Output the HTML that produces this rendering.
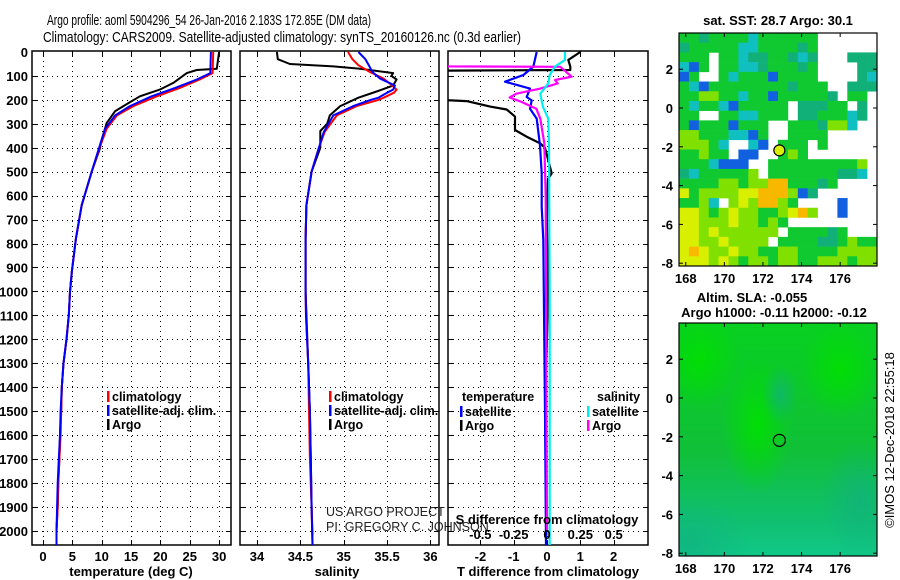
<!DOCTYPE html>
<html><head><meta charset="utf-8">
<style>
html,body{margin:0;padding:0;background:#fff;}
svg{display:block;font-family:"Liberation Sans",Arial,sans-serif;}
.tk{font-size:13px;font-weight:bold;fill:#000;}
.ttl{font-size:15px;fill:#000;}
.lg{font-size:12.5px;font-weight:bold;fill:#000;}
</style></head>
<body>
<svg id="fig" width="900" height="580" viewBox="0 0 900 580" xmlns="http://www.w3.org/2000/svg">
<text class="ttl" x="47" y="25" textLength="324" lengthAdjust="spacingAndGlyphs">Argo profile: aoml 5904296_54 26-Jan-2016 2.183S 172.85E (DM data)</text>
<text class="ttl" x="43" y="42" textLength="478" lengthAdjust="spacingAndGlyphs">Climatology: CARS2009. Satellite-adjusted climatology: synTS_20160126.nc (0.3d earlier)</text>
<g id="root"></g>
</svg>
<script>
// ---------- data ----------
const tempDepth = [0,88,115,150,185,226,265,320,396,500,640,780,919,1002,1100,1200,1300,1400,1500,1600,1700,1800,1900,2000,2060];
const tempClim  = [29.0,28.9,26.7,23.3,19.4,15.4,12.6,10.85,9.7,8.3,6.6,5.6,4.9,4.6,4.4,4.0,3.5,3.2,3.1,3.0,2.8,2.6,2.5,2.3,2.3];
const tempSat   = [28.6,28.5,26.2,22.5,18.5,14.8,12.3,10.6,9.6,8.3,6.6,5.6,4.9,4.6,4.4,4.0,3.5,3.2,3.0,2.9,2.7,2.5,2.4,2.3,2.3];
const argoTDepth = [0,70,75,88,129,157,185,226,247,296,366,403,500,640,780,919,1002,1100,1200,1300,1400,1500,1600,1700,1800,1900,2000,2020];
const argoT      = [30.0,29.6,26.2,24.5,22.2,19.9,16.5,13.7,12.3,10.85,10.0,9.7,8.3,6.6,5.6,4.9,4.6,4.4,4.0,3.5,3.2,3.1,2.9,2.8,2.6,2.5,2.3,2.3];

const salDepth = [0,30,55,83,111,140,157,170,191,200,226,265,334,404,500,640,780,1000,1100,1300,1500,1700,1900,2060];
const salClim  = [35.05,35.1,35.17,35.30,35.46,35.56,35.61,35.58,35.46,35.40,35.15,34.92,34.78,34.71,34.63,34.57,34.56,34.56,34.565,34.59,34.60,34.61,34.63,34.64];
const salSat   = [35.17,35.25,35.29,35.33,35.42,35.59,35.57,35.50,35.40,35.31,35.11,34.88,34.77,34.71,34.63,34.57,34.56,34.56,34.565,34.59,34.61,34.62,34.63,34.64];
const argoSDepth = [0,30,50,60,70,88,100,115,140,165,191,226,265,300,330,400,500,640,780,1000,1300,1500,1700,1900,2020];
const argoS      = [34.23,34.24,34.38,34.88,35.19,35.57,35.55,35.61,35.57,35.38,35.17,34.96,34.84,34.81,34.73,34.73,34.63,34.57,34.56,34.56,34.59,34.61,34.62,34.63,34.64];

const diffDepthArgoT = [0,33,61,75,78,200,205,228,240,270,326,354,381,400,507,530,700,1000,1500,2020];
const diffArgoT      = [1.0,0.64,0.7,0.7,-3.2,-3.2,-2.41,-1.71,-1.21,-0.96,-0.96,-0.61,-0.21,-0.06,0.14,0.03,0.0,0.03,-0.05,-0.02];
const diffDepthSatT  = [0,61,96,124,153,188,202,237,278,390,507,646,785,1500,2060];
const diffSatT       = [-0.31,-0.41,-0.71,-1.26,-0.51,-0.61,-0.46,-0.51,-0.31,-0.21,-0.16,-0.16,-0.11,-0.06,-0.03];
const diffDepthSatS  = [0,33,61,96,131,174,230,278,400,1000,2060];
const diffSatS       = [0.135,0.135,0.06,0.02,0.01,-0.05,-0.03,0.01,0.015,0.02,0.02];
const diffDepthArgoS = [20,60,62,103,117,131,153,174,190,209,237,278,381,600,2000];
const diffArgoS      = [-0.75,-0.75,0.1,0.185,0.06,0.08,-0.05,-0.23,-0.28,-0.19,-0.08,-0.05,-0.02,-0.01,0.0];

const depthTicks = [0,100,200,300,400,500,600,700,800,900,1000,1100,1200,1300,1400,1500,1600,1700,1800,1900,2000];
const tempTicks = [0,5,10,15,20,25,30];
const salTicks = [34,34.5,35,35.5,36];
const tdTicks = [-2,-1,0,1,2];
const sdTicks = ["-0.5","-0.25","0","0.25","0.5"];
const lonTicks = [168,170,172,174,176];
const latTicks = [2,0,-2,-4,-6,-8];

const sstRows = [
"GGTGGGGCGGGGGGWWWWWW",
"TGGGGGCCGGGGTGWWWWWW",
"GGGWGGCTTGGTCTWWWTTT",
"CBGWGGCCTGGGTGWWWWTT",
"BGWWGCGGGBGGGGWWWWTC",
"GCBGGGGGGGGTGGGWWTTT",
"GGLLGGCGGBGGGGGTWGGW",
"GCGGCBGGGGGWTTTGGWTW",
"GGWWGGCCGGGWTTGGGCTW",
"GBGGGBGGGWWGGGTLLCWW",
"LLGGGCCBGWWGGGGWWWWW",
"LLLGCWWCBWGGGWGWWWWW",
"GGLGGWBBWWGLGWWWWWWW",
"GGGCBBBWWGGGGGGGGGLW",
"TCGGGGGLWGGGGGGGTTCW",
"GGGGLLGLLOOGGGTGWWWW",
"YGLLLLYYOOOLBTWWWWWW",
"GGLCWLYLOOLGWWWWBWWW",
"YYLGLYLLGGLYOLWWBWWW",
"YYLLLYLLGLGWWWWWWWWW",
"YYLYLLLLLLWGGGGTGWWW",
"YYLLYLLLLWGGGGTTGLGG",
"YOYLLYLLGGLLGGGGLLLL",
"YYYLYLGLLGLLGGLLLGLL"];
const sstColours = {G:"#10c830",T:"#10b078",C:"#10c0c0",B:"#1060e0",L:"#80e000",Y:"#d8f000",O:"#f8b800",W:"#ffffff"};
const argoLon = 172.85, argoLat = -2.183;

// ---------- helpers ----------
const NS="http://www.w3.org/2000/svg";
const root=document.getElementById('root');
function mk(tag,attrs,parent){const e=document.createElementNS(NS,tag);for(const k in attrs)e.setAttribute(k,attrs[k]);(parent||root).appendChild(e);return e;}
const Y0=52, PXM=0.2394, YB=545, YT=51;
const yD=d=>Y0+d*PXM;
const xT=t=>43+t*5.87;
const xS=s=>257+(s-34)*86.7;
const xTD=v=>547+v*33.3;
const xSD=v=>547+v*133.3;
const px=v=>Math.round(v)+0.5;

const defs=mk('defs',{});
[['c1',32,231],['c2',240,439],['c3',448,648]].forEach(c=>{const cp=mk('clipPath',{id:c[0]},defs);mk('rect',{x:c[1],y:YT,width:c[2]-c[1],height:YB-YT},cp);});

function panel(name,x0,x1,xticks,xf,labels){
  const g=mk('g',{});
  
  
  depthTicks.forEach(d=>{if(d>0){const Y=px(yD(d));const l=mk('line',{x1:x0,x2:x1,y1:Y,y2:Y,stroke:'#000','stroke-width':1,'stroke-dasharray':'1 4','shape-rendering':'crispEdges'},g);
    
    mk('line',{x1:x0,x2:x0+5,y1:Y,y2:Y,stroke:'#000','shape-rendering':'crispEdges'},g);mk('line',{x1:x1,x2:x1-5,y1:Y,y2:Y,stroke:'#000','shape-rendering':'crispEdges'},g);}});
  xticks.forEach(v=>{const X=px(xf(v));const l=mk('line',{x1:X,x2:X,y1:YT,y2:YB,stroke:'#000','stroke-width':1,'stroke-dasharray':'1 4','shape-rendering':'crispEdges'},g);
    
    mk('line',{x1:X,x2:X,y1:YB,y2:YB-5,stroke:'#000'},g);mk('line',{x1:X,x2:X,y1:YT,y2:YT+5,stroke:'#000'},g);});
  if(labels){xticks.forEach((v,i)=>{const t=mk('text',{x:xf(v),y:561,'text-anchor':'middle',class:'tk'},g);t.textContent=labels[i];
    });}
  const f=mk('rect',{x:x0,y:YT,width:x1-x0,height:YB-YT,fill:'none',stroke:'#000','stroke-width':1.5},g);
  
  return g;
}
function line(name,xs,ds,xf,col,w,clip,parent){
  const pts=xs.map((v,i)=>xf(v).toFixed(1)+','+yD(ds[i]).toFixed(1)).join(' ');
  const p=mk('polyline',{points:pts,fill:'none',stroke:col,'stroke-width':w,'stroke-linejoin':'round','clip-path':'url(#'+clip+')'},parent);
  
  
}

depthTicks.forEach(d=>{const t=mk('text',{x:28,y:yD(d)+5,'text-anchor':'end',class:'tk'});t.textContent=d;
  
  });

const g1=panel('temperature-panel',32,231,tempTicks,xT,tempTicks.map(String));
line('argo-temperature-line',argoT,argoTDepth,xT,'#000',2,'c1',g1);
line('climatology-temperature-line',tempClim,tempDepth,xT,'#f00',2,'c1',g1);
line('satellite-temperature-line',tempSat,tempDepth,xT,'#00f',2,'c1',g1);
let t=mk('text',{x:131,y:576,'text-anchor':'middle',class:'tk'});t.textContent='temperature (deg C)';



const g2=panel('salinity-panel',240,439,salTicks,xS,salTicks.map(String));
line('argo-salinity-line',argoS,argoSDepth,xS,'#000',2,'c2',g2);
line('climatology-salinity-line',salClim,salDepth,xS,'#f00',2,'c2',g2);
line('satellite-salinity-line',salSat,salDepth,xS,'#00f',2,'c2',g2);
t=mk('text',{x:337,y:576,'text-anchor':'middle',class:'tk'});t.textContent='salinity';



function legend(x,y){
  const items=[['#f00','climatology'],['#00f','satellite-adj. clim.'],['#000','Argo']];
  items.forEach((it,i)=>{const r=mk('rect',{x:x,y:y+i*14-9,width:2.5,height:11,fill:it[0]});
    
    const tx=mk('text',{x:x+5,y:y+i*14+1,class:'lg'});tx.textContent=it[1];
    });
}
legend(107,400);legend(329,400);
[['US ARGO PROJECT',512],['PI: GREGORY C. JOHNSON',527]].forEach(a=>{const tx=mk('text',{x:326,y:a[1]+4,'font-size':'12.5px',fill:'#222'});tx.textContent=a[0];
  });

const g3=panel('difference-panel',448,648,tdTicks,xTD,tdTicks.map(String));
line('argo-temperature-difference',diffArgoT,diffDepthArgoT,xTD,'#000',2.2,'c3',g3);
line('satellite-temperature-difference',diffSatT,diffDepthSatT,xTD,'#00f',2.2,'c3',g3);
line('argo-salinity-difference',diffArgoS,diffDepthArgoS,xSD,'#f0f',2.2,'c3',g3);
line('satellite-salinity-difference',diffSatS,diffDepthSatS,xSD,'#0ee',2.2,'c3',g3);
t=mk('text',{x:548,y:576,'text-anchor':'middle',class:'tk'});t.textContent='T difference from climatology';


t=mk('text',{x:547,y:524,'text-anchor':'middle',class:'tk'});t.textContent='S difference from climatology';


sdTicks.forEach((s,i)=>{const tx=mk('text',{x:xSD(parseFloat(s)),y:539,'text-anchor':'middle',class:'tk'});tx.textContent=s;
  });
[['temperature',462,401],['salinity',597,401]].forEach(a=>{const tx=mk('text',{x:a[1],y:a[2],class:'lg'});tx.textContent=a[0];
  });
[[460,'#00f','satellite',415],[460,'#000','Argo',429],[587,'#0ee','satellite',415],[587,'#f0f','Argo',429]].forEach(a=>{
  const r=mk('rect',{x:a[0],y:a[3]-9,width:2.5,height:11,fill:a[1]});
  
  const tx=mk('text',{x:a[0]+5,y:a[3]+1,class:'lg'});tx.textContent=a[2];
  });

// ---------- maps ----------
const MX0=679,MX1=877,LON0=167.65,PXD=19.3;
const xLon=l=>MX0+(l-LON0)*PXD;
function mapAxes(name,yTop,yBot,lat0y){
  const yLat=l=>lat0y-l*19.4;
  latTicks.forEach(l=>{const Y=yLat(l);mk('line',{x1:MX0,x2:MX0+4,y1:Y,y2:Y,stroke:'#000'});mk('line',{x1:MX1,x2:MX1-4,y1:Y,y2:Y,stroke:'#000'});
    const tx=mk('text',{x:673,y:Y+5,'text-anchor':'end',class:'tk'});tx.textContent=l;
    });
  lonTicks.forEach(l=>{const X=xLon(l);mk('line',{x1:X,x2:X,y1:yBot,y2:yBot-4,stroke:'#000'});mk('line',{x1:X,x2:X,y1:yTop,y2:yTop+4,stroke:'#000'});
    const tx=mk('text',{x:X,y:yBot+17,'text-anchor':'middle',class:'tk'});tx.textContent=l;
    });
  const f=mk('rect',{x:MX0,y:yTop,width:MX1-MX0,height:yBot-yTop,fill:'none',stroke:'#000','stroke-width':1.2});
  
  return yLat;
}
const sstG=mk('g',{});


const ST=33,SB=266,cw=(MX1-MX0)/20,ch=(SB-ST)/24;
sstRows.forEach((row,ri)=>{[...row].forEach((c,ci)=>{if(c==='W')return;
  const r=mk('rect',{x:MX0+ci*cw,y:ST+ri*ch,width:cw+0.3,height:ch+0.3,fill:sstColours[c]},sstG);
  });});
const yLat1=mapAxes('sst-map-frame',ST,SB,108);
let c=mk('circle',{cx:xLon(argoLon),cy:yLat1(argoLat),r:5.5,fill:'#d8f000',stroke:'#000','stroke-width':1.2});


t=mk('text',{x:778,y:25,'text-anchor':'middle',class:'tk','font-size':'12.5px'});t.textContent='sat. SST: 28.7 Argo: 30.1';



const SLT=323,SLB=556;
const gr=mk('linearGradient',{id:'slaBase',x1:0,y1:0,x2:0,y2:1},defs);
[['0','#08d020'],['0.55','#10c038'],['0.85','#10c070'],['1','#10c888']].forEach(s=>mk('stop',{offset:s[0],'stop-color':s[1]},gr));
const rg=mk('radialGradient',{id:'slaHi',cx:0.5,cy:0.5,r:0.5},defs);
mk('stop',{offset:'0','stop-color':'#00e000','stop-opacity':0.9},rg);mk('stop',{offset:'1','stop-color':'#00e000','stop-opacity':0},rg);
const rg2=mk('radialGradient',{id:'slaLo',cx:0.5,cy:0.5,r:0.5},defs);
mk('stop',{offset:'0','stop-color':'#10b080','stop-opacity':0.7},rg2);mk('stop',{offset:'1','stop-color':'#10b080','stop-opacity':0},rg2);
const slaG=mk('g',{});


mk('rect',{x:MX0,y:SLT,width:MX1-MX0,height:SLB-SLT,fill:'url(#slaBase)'},slaG);
const cpm=mk('clipPath',{id:'cm'},defs);mk('rect',{x:MX0,y:SLT,width:MX1-MX0,height:SLB-SLT},cpm);
const hg=mk('g',{'clip-path':'url(#cm)'},slaG);
mk('ellipse',{cx:757,cy:425,rx:35,ry:70,fill:'url(#slaHi)'},hg);
mk('ellipse',{cx:840,cy:370,rx:40,ry:50,fill:'url(#slaHi)'},hg);
mk('ellipse',{cx:700,cy:360,rx:40,ry:50,fill:'url(#slaHi)'},hg);
mk('ellipse',{cx:780,cy:395,rx:18,ry:30,fill:'url(#slaLo)'},hg);
mk('ellipse',{cx:690,cy:545,rx:60,ry:50,fill:'url(#slaLo)'},hg);
mk('ellipse',{cx:860,cy:500,rx:40,ry:60,fill:'url(#slaLo)'},hg);
const yLat2=mapAxes('sla-map-frame',SLT,SLB,398);
c=mk('circle',{cx:xLon(argoLon),cy:yLat2(argoLat),r:6,fill:'none',stroke:'#000','stroke-width':1.2});


t=mk('text',{x:752,y:302,'text-anchor':'middle',class:'tk','font-size':'12.5px'});t.textContent='Altim. SLA: -0.055';


t=mk('text',{x:774,y:317,'text-anchor':'middle',class:'tk','font-size':'12.5px'});t.textContent='Argo h1000: -0.11 h2000: -0.12';


t=mk('text',{x:0,y:0,'text-anchor':'middle','font-size':'13px',fill:'#000',transform:'translate(894,440) rotate(-90)'});t.textContent='©IMOS 12-Dec-2018 22:55:18';


</script>
</body></html>
